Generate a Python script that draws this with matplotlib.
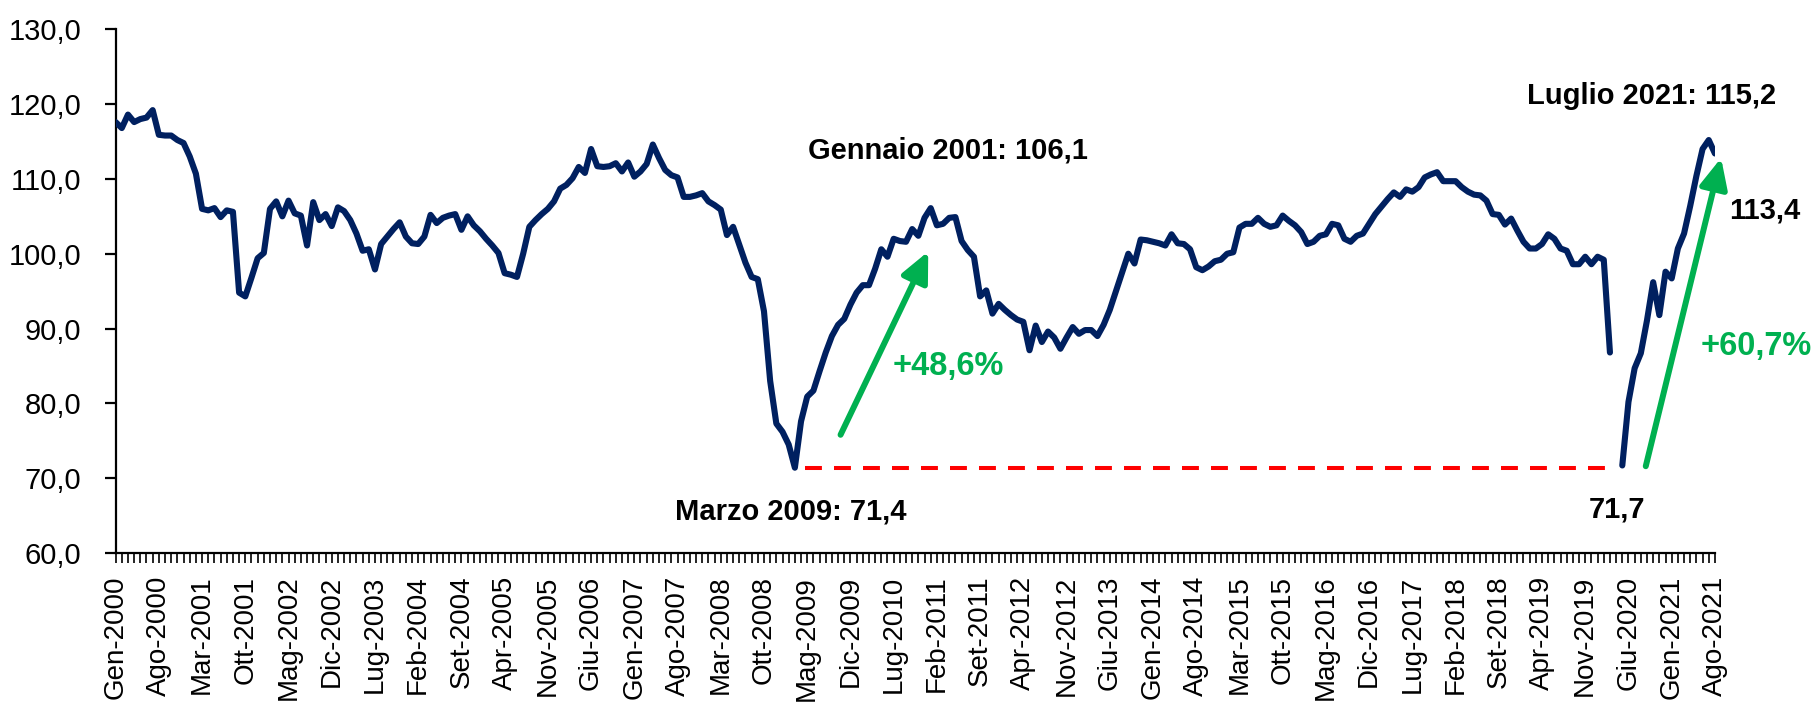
import numpy as np
import matplotlib
matplotlib.use("Agg")
import matplotlib.pyplot as plt
from matplotlib import font_manager
from matplotlib.ticker import FixedLocator, MultipleLocator, FuncFormatter

# monthly index, Gen-2000 .. Ago-2021 (Apr-2020 not surveyed)
values = [
    117.6, 116.8, 118.6, 117.6, 118.0, 118.2, 119.2, 115.9, 115.8, 115.8,
    115.2, 114.8, 113.0, 110.7, 106.0, 105.8, 106.1, 104.9, 105.8, 105.6,
    94.8, 94.3, 96.8, 99.4, 100.1, 106.0, 107.0, 105.0, 107.1, 105.4,
    105.1, 101.1, 106.9, 104.5, 105.3, 103.7, 106.2, 105.7, 104.5, 102.7,
    100.4, 100.6, 97.9, 101.3, 102.3, 103.3, 104.2, 102.3, 101.4, 101.3,
    102.3, 105.2, 104.1, 104.8, 105.1, 105.3, 103.2, 105.0, 103.8, 103.0,
    102.0, 101.1, 100.1, 97.4, 97.2, 96.9, 100.0, 103.6, 104.5, 105.3,
    106.0, 107.0, 108.7, 109.2, 110.1, 111.6, 110.8, 114.0, 111.7, 111.6,
    111.7, 112.1, 111.0, 112.2, 110.3, 111.0, 112.0, 114.6, 112.8, 111.2,
    110.5, 110.2, 107.6, 107.6, 107.8, 108.1, 107.0, 106.5, 105.9, 102.5,
    103.6, 101.2, 98.8, 96.9, 96.6, 92.3, 83.0, 77.3, 76.2, 74.5,
    71.4, 77.6, 80.9, 81.7, 84.3, 86.8, 89.0, 90.5, 91.3, 93.2,
    94.8, 95.8, 95.8, 98.0, 100.6, 99.6, 102.0, 101.7, 101.6, 103.3,
    102.4, 104.8, 106.1, 103.8, 104.0, 104.8, 104.9, 101.7, 100.5, 99.6,
    94.3, 95.1, 92.0, 93.3, 92.5, 91.8, 91.2, 90.9, 87.1, 90.4,
    88.2, 89.6, 88.8, 87.3, 88.8, 90.2, 89.3, 89.8, 89.8, 89.0,
    90.5, 92.5, 95.0, 97.5, 100.0, 98.7, 101.9, 101.8, 101.6, 101.4,
    101.1, 102.6, 101.4, 101.3, 100.6, 98.2, 97.8, 98.3, 99.0, 99.2,
    100.0, 100.2, 103.5, 104.0, 104.0, 104.8, 104.0, 103.6, 103.8, 105.1,
    104.4, 103.8, 102.9, 101.3, 101.6, 102.4, 102.6, 104.0, 103.8, 102.0,
    101.6, 102.4, 102.7, 104.0, 105.3, 106.3, 107.3, 108.2, 107.6, 108.6,
    108.3, 108.9, 110.2, 110.6, 110.9, 109.7, 109.7, 109.7, 108.9, 108.3,
    107.9, 107.8, 107.1, 105.3, 105.2, 103.9, 104.7, 103.1, 101.6, 100.7,
    100.7, 101.3, 102.6, 102.0, 100.7, 100.4, 98.6, 98.6, 99.6, 98.6,
    99.6, 99.2, 86.8, np.nan, 71.7, 80.2, 84.7, 86.7, 91.1, 96.2,
    91.8, 97.6, 96.7, 100.7, 102.7, 106.4, 110.4, 114.0, 115.2, 113.4,
]
assert len(values) == 260

tick_labels = [
    "Gen-2000", "Ago-2000", "Mar-2001", "Ott-2001", "Mag-2002", "Dic-2002",
    "Lug-2003", "Feb-2004", "Set-2004", "Apr-2005", "Nov-2005", "Giu-2006",
    "Gen-2007", "Ago-2007", "Mar-2008", "Ott-2008", "Mag-2009", "Dic-2009",
    "Lug-2010", "Feb-2011", "Set-2011", "Apr-2012", "Nov-2012", "Giu-2013",
    "Gen-2014", "Ago-2014", "Mar-2015", "Ott-2015", "Mag-2016", "Dic-2016",
    "Lug-2017", "Feb-2018", "Set-2018", "Apr-2019", "Nov-2019", "Giu-2020",
    "Gen-2021", "Ago-2021",
]

low_2009 = 71.4

NAVY = "#002060"
GREEN = "#00B050"
RED = "#FF0000"

installed = {f.name for f in font_manager.fontManager.ttflist}
if "Liberation Sans Narrow" in installed:
    NARROW = "Liberation Sans Narrow"
    k = 1.0
else:
    NARROW = "Liberation Sans"
    k = 0.84

plt.rcParams["font.family"] = "Liberation Sans"

fig = plt.figure(figsize=(18.18, 7.06), dpi=100)
ax = fig.add_axes([0.0636, 0.2167, 0.8797, 0.7418])

x = np.arange(len(values))
ax.plot(x, values, color=NAVY, lw=4.4, solid_capstyle="round",
        solid_joinstyle="round", zorder=3)

# reference level of the 2009 low
ax.plot([111.7, 241.4], [low_2009, low_2009], color=RED, lw=2.9,
        linestyle=(0, (4.2, 3.0)), zorder=2)

ax.set_xlim(0, len(values) - 1)
ax.set_ylim(60, 130)

for s in ["top", "right"]:
    ax.spines[s].set_visible(False)
for s in ["left", "bottom"]:
    ax.spines[s].set_linewidth(1.6)

ax.yaxis.set_major_locator(MultipleLocator(10))
ax.yaxis.set_major_formatter(FuncFormatter(lambda v, p: f"{v:.1f}".replace(".", ",")))
ax.tick_params(axis="y", direction="out", length=7.7, width=1.6, pad=17)
for lab in ax.get_yticklabels():
    lab.set_fontfamily(NARROW)
    lab.set_fontsize(25 * k)

ax.xaxis.set_major_locator(FixedLocator(np.arange(0, len(values), 7)))
ax.xaxis.set_minor_locator(MultipleLocator(1))
ax.set_xticklabels(tick_labels, rotation=90, fontsize=20)
ax.tick_params(axis="x", which="both", direction="out", length=7.3, width=1.2, pad=9)

txt = dict(fontfamily=NARROW, fontweight="bold", fontsize=25 * k, ha="center",
           va="baseline", color="black")
ax.text(134.8, 112.7, "Gennaio 2001: 106,1", **txt)
ax.text(109.3, 64.45, "Marzo 2009: 71,4", **txt)
ax.text(248.7, 120.0, "Luglio 2021: 115,2", **txt, clip_on=False)
ax.text(267.1, 104.7, "113,4", **txt, clip_on=False)
ax.text(243.2, 64.7, "71,7", **txt)

gtxt = dict(txt, color=GREEN, fontsize=28 * k)
ax.text(134.9, 83.8, "+48,6%", **gtxt)
ax.text(265.7, 86.4, "+60,7%", **gtxt, clip_on=False)

arrow = dict(arrowstyle="-|>,head_length=0.9,head_width=0.42", color=GREEN,
             lw=4.3, mutation_scale=20, shrinkA=0, shrinkB=0)
ax.annotate("", xy=(131.6, 100.3), xytext=(117.4, 75.8), arrowprops=arrow,
            annotation_clip=False)
ax.annotate("", xy=(260.0, 112.8), xytext=(247.8, 71.6), arrowprops=arrow,
            annotation_clip=False)

fig.savefig("out.png", dpi=100)
